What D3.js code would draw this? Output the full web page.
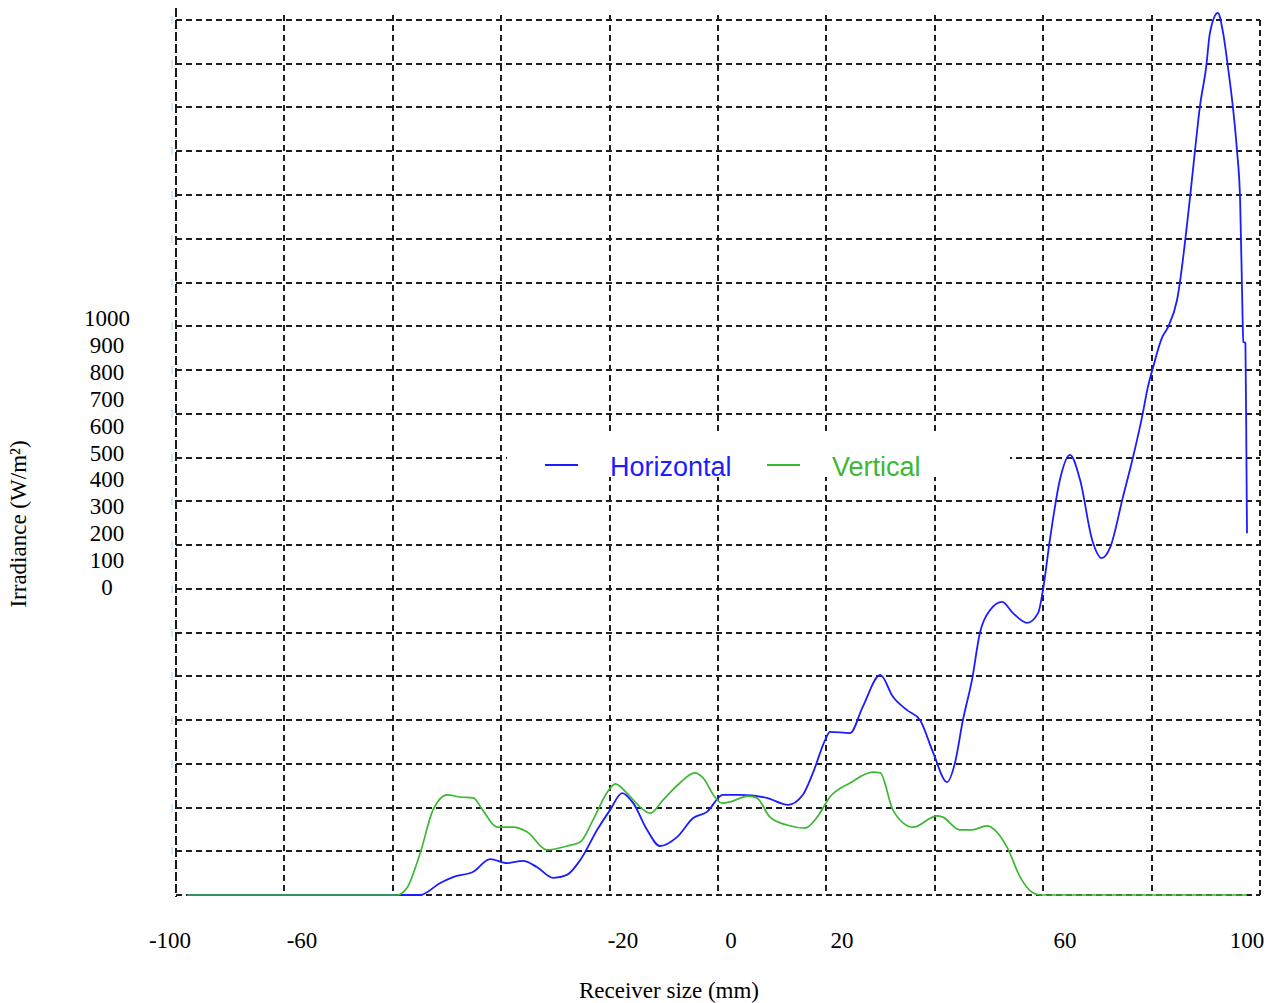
<!DOCTYPE html>
<html>
<head>
<meta charset="utf-8">
<script src="https://cdn.jsdelivr.net/npm/d3@7"></script>
<style>
  html, body { margin: 0; padding: 0; background: #fff; }
  svg { display: block; }
</style>
</head>
<body>
<svg id="chart" width="1267" height="1003"></svg>
<script>
// ---- data ----
const horizontalX = [-100,-60.2,-56.0,-52.3,-49.8,-46.0,-42.8,-39.6,-36.6,-34.0,-30.9,-28.3,-25.8,-22.6,-20.2,-17.9,-15.8,-13.2,-10.8,-7.5,-4.5,-1.9,1.1,4.3,9.4,13.4,16.2,18.1,20.4,21.3,25.1,27.5,30.8,33.2,35.8,38.3,40.8,43.4,44.9,46.4,48.1,49.6,51.5,53.8,55.8,58.5,60.6,61.5,62.8,64.7,66.6,68.5,70.8,72.6,74.2,76.6,78.5,80.2,81.3,82.3,84.0,85.1,86.8,89.2,90.2,91.1,92.3,93.0,94.5,95.5,96.4,97.4,98.1,98.7,99.1,99.3,99.7,99.9,100];
const horizontalY = [0,0,0,27,41,53,82,73,78,64,39,46,80,149,194,233,210,149,112,133,176,190,229,229,222,206,229,279,354,373,370,430,503,453,423,400,325,258,302,400,491,599,651,670,645,622,645,697,811,949,1006,949,811,770,795,910,1001,1093,1161,1207,1275,1298,1360,1589,1703,1801,1893,1970,2016,1970,1893,1794,1703,1589,1360,1264,1262,987,827];

const verticalX = [-100,-60.4,-58.5,-56.0,-53.6,-50.9,-48.5,-46.0,-44.2,-41.5,-38.5,-35.8,-32.1,-28.3,-25.8,-23.4,-20.8,-19.2,-17.0,-14.5,-12.6,-10.2,-7.0,-4.2,-2.6,-0.4,0.9,2.5,5.8,7.5,10.0,13.2,16.6,18.9,21.3,25.1,29.4,30.8,33.2,37.0,41.5,42.6,45.8,48.1,50.9,54.7,57.2,59.6,61.0,100];
const verticalY = [0,0,16,96,194,229,224,222,194,155,155,144,103,112,121,171,233,254,233,201,187,217,256,279,267,224,210,213,226,222,178,160,153,178,224,256,281,279,194,155,181,178,149,149,158,110,41,5,0,0];

const seriesNames = ["Horizontal", "Vertical"];
const xTickLabels = ["-100", "-60", "-20", "0", "20", "60", "100"];
const xTickValues = [-100, -60, -20, 0, 20, 60, 100];
const yTickValues = [1000, 900, 800, 700, 600, 500, 400, 300, 200, 100, 0];
const gridXCount = 10;
const gridYValues = d3.range(0, 2001, 100);

// ---- drawing ----
const svg = d3.select("#chart");
const blue = "#1c1cff";
const green = "#3cb832";

const x = d3.scaleLinear().domain([-100, 100]).range([187, 1247]);
const y = d3.scaleLinear().domain([0, 2000]).range([895, 20]);
const gx = d3.scaleLinear().domain([0, gridXCount]).range([176, 1260]);
// label positions as they appear in the figure (distorted)
const xLabel = d3.scaleLinear().domain(xTickValues).range([170, 302, 623, 731, 842, 1065, 1247]);
const yLabel = d3.scaleLinear().domain([0, 1000]).range([587, 318]);

const dash = "6,4";
const gridColor = "#1e1e1e";

// horizontal gridlines
svg.append("g").selectAll("line").data(gridYValues).join("line")
  .attr("x1", gx(0)).attr("x2", gx(gridXCount))
  .attr("y1", d => Math.round(y(d))).attr("y2", d => Math.round(y(d)))
  .attr("stroke", gridColor).attr("stroke-width", 2).attr("stroke-dasharray", dash);

// vertical gridlines
svg.append("g").selectAll("line").data(d3.range(1, gridXCount + 1)).join("line")
  .attr("x1", d => Math.round(gx(d))).attr("x2", d => Math.round(gx(d)))
  .attr("y1", d => d === gridXCount ? y(2000) : 15).attr("y2", y(0))
  .attr("stroke", gridColor).attr("stroke-width", 2).attr("stroke-dasharray", dash);

// left border
svg.append("line")
  .attr("x1", gx(0)).attr("x2", gx(0)).attr("y1", 8).attr("y2", 897)
  .attr("stroke", gridColor).attr("stroke-width", 2).attr("stroke-dasharray", "9,3");

// small light blue marks at left
svg.append("g").selectAll("line").data(gridYValues.filter(d => d > 0)).join("line")
  .attr("x1", 172).attr("x2", 172)
  .attr("y1", d => Math.round(y(d)) - 4).attr("y2", d => Math.round(y(d)) + 4)
  .attr("stroke", "#a9d3f5").attr("stroke-width", 1);

// legend background box
svg.append("rect").attr("x", 507).attr("y", 431).attr("width", 503).attr("height", 46).attr("fill", "#fff");

// lines
const line = d3.line().x(d => x(d[0])).y(d => y(d[1])).curve(d3.curveMonotoneX);
const hData = horizontalX.map((v, i) => [v, horizontalY[i]]);
const vData = verticalX.map((v, i) => [v, verticalY[i]]);

svg.append("path").datum(hData).attr("d", line)
  .attr("fill", "none").attr("stroke", blue).attr("stroke-width", 1.8).attr("stroke-linejoin", "round");
svg.append("path").datum(vData).attr("d", line)
  .attr("fill", "none").attr("stroke", green).attr("stroke-width", 1.7).attr("stroke-linejoin", "round");

// legend
const legend = svg.append("g");
const legendItems = [
  { name: seriesNames[0], color: blue, lx: 545, tx: 610 },
  { name: seriesNames[1], color: green, lx: 767, tx: 832 }
];
legendItems.forEach(it => {
  legend.append("line").attr("x1", it.lx).attr("x2", it.lx + 33).attr("y1", 465).attr("y2", 465)
    .attr("stroke", it.color).attr("stroke-width", 2);
  legend.append("text").attr("x", it.tx).attr("y", 476)
    .attr("font-family", "Liberation Sans, Arial, sans-serif").attr("font-size", 27)
    .attr("fill", it.color).text(it.name);
});

// y tick labels
svg.append("g").selectAll("text").data(yTickValues).join("text")
  .attr("x", 107).attr("y", d => yLabel(d) + 8)
  .attr("text-anchor", "middle")
  .attr("font-family", "Liberation Serif, Times New Roman, serif").attr("font-size", 23)
  .attr("fill", "#000").text(d => d);

// x tick labels
svg.append("g").selectAll("text").data(xTickValues).join("text")
  .attr("x", d => xLabel(d)).attr("y", 948)
  .attr("text-anchor", "middle")
  .attr("font-family", "Liberation Serif, Times New Roman, serif").attr("font-size", 23)
  .attr("fill", "#000").text((d, i) => xTickLabels[i]);

// axis titles
svg.append("text").attr("x", 669).attr("y", 998).attr("text-anchor", "middle")
  .attr("font-family", "Liberation Serif, Times New Roman, serif").attr("font-size", 23)
  .attr("fill", "#000").text("Receiver size (mm)");

svg.append("text").attr("transform", "translate(26,524) rotate(-90)").attr("text-anchor", "middle")
  .attr("font-family", "Liberation Serif, Times New Roman, serif").attr("font-size", 23)
  .attr("fill", "#000").text("Irradiance (W/m²)");
</script>
</body>
</html>
